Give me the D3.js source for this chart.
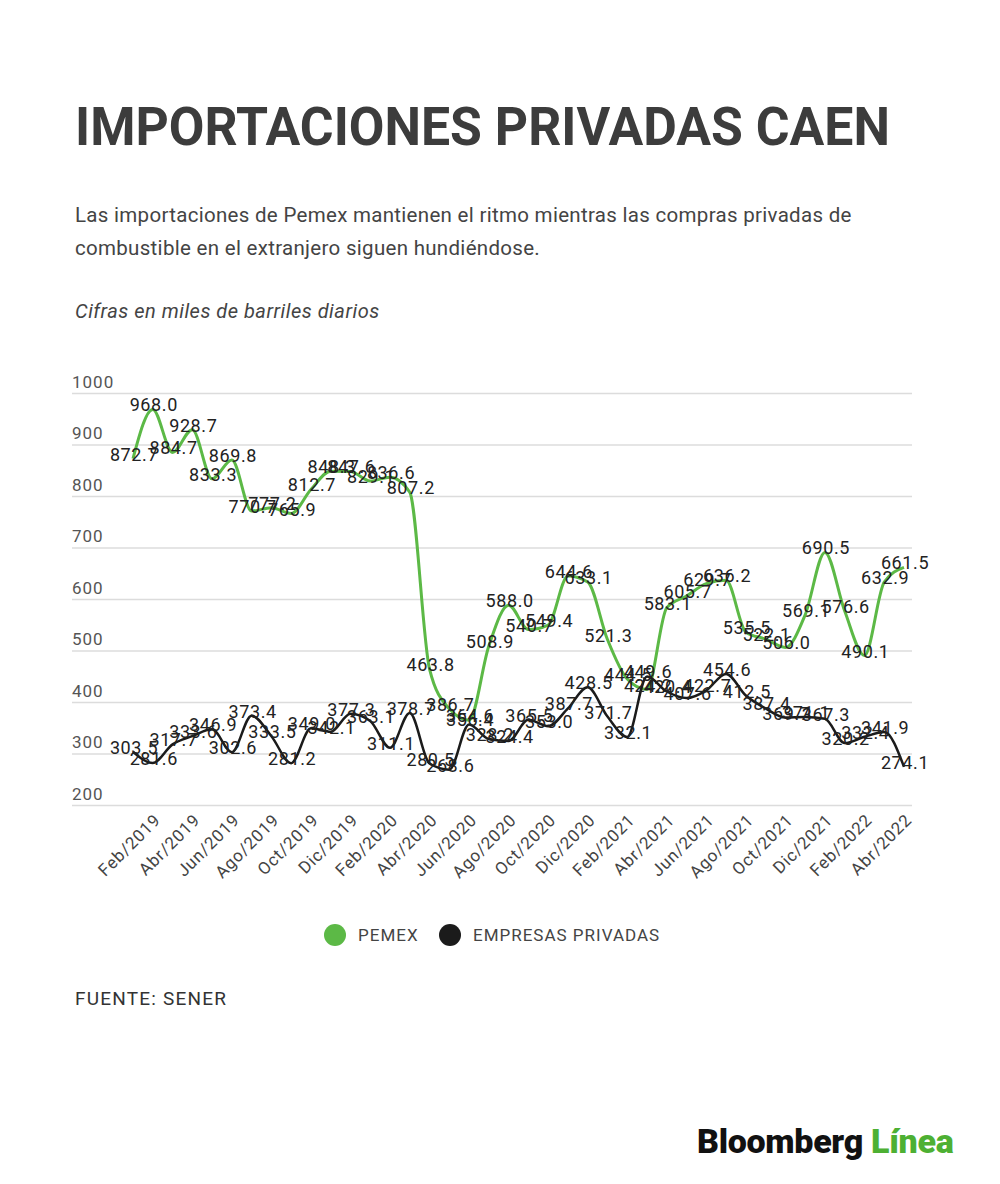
<!DOCTYPE html>
<html>
<head>
<meta charset="utf-8">
<script src="https://cdn.jsdelivr.net/npm/d3@7"></script>
<style>
  body { margin: 0; background: #fff; }
  svg text { font-family: Roboto, "Noto Sans", sans-serif; }
</style>
</head>
<body>
<div class="chart"></div>
<script>
// months Ene/2019 .. Abr/2022
const months = [
  "Ene/2019","Feb/2019","Mar/2019","Abr/2019","May/2019","Jun/2019","Jul/2019","Ago/2019","Sep/2019","Oct/2019","Nov/2019","Dic/2019",
  "Ene/2020","Feb/2020","Mar/2020","Abr/2020","May/2020","Jun/2020","Jul/2020","Ago/2020","Sep/2020","Oct/2020","Nov/2020","Dic/2020",
  "Ene/2021","Feb/2021","Mar/2021","Abr/2021","May/2021","Jun/2021","Jul/2021","Ago/2021","Sep/2021","Oct/2021","Nov/2021","Dic/2021",
  "Ene/2022","Feb/2022","Mar/2022","Abr/2022"
];
const pemex = [
  872.7, 968.0, 884.7, 928.7, 833.3, 869.8, 770.7, 777.2, 765.9, 812.7, 848.3, 847.6,
  829.1, 836.6, 807.2, 463.8, 386.7, 364.6, 508.9, 588.0, 540.7, 549.4, 644.6, 633.1,
  521.3, 444.5, 424.2, 583.1, 605.7, 629.7, 636.2, 535.5, 522.1, 506.0, 569.1, 690.5,
  576.6, 490.1, 632.9, 661.5
];
const privadas = [
  303.5, 281.6, 317.7, 333.6, 346.9, 302.6, 373.4, 333.5, 281.2, 349.0, 342.1, 377.3,
  363.1, 311.1, 378.7, 280.5, 268.6, 356.4, 328.2, 324.4, 365.5, 353.0, 387.7, 428.5,
  371.7, 332.1, 449.6, 420.4, 407.6, 422.7, 454.6, 412.5, 387.4, 369.7, 371.1, 367.3,
  320.2, 332.4, 341.9, 274.1
];
const yTicks = [200, 300, 400, 500, 600, 700, 800, 900, 1000];
const tickMonths = months.filter((d, i) => i % 2 === 1);

const width = 1000;
const height = 1184;
const green = "#5cb946";
const black = "#1b1b1b";

const svg = d3.select(".chart")
  .append("svg")
  .attr("width", width)
  .attr("height", height);

svg.append("rect").attr("width", width).attr("height", height).attr("fill", "#fff");

// header
svg.append("text")
  .attr("x", 75).attr("y", 145)
  .attr("font-size", 54).attr("font-weight", 700)
  .attr("fill", "#3c3c3c")
  .attr("textLength", 815).attr("lengthAdjust", "spacingAndGlyphs")
  .text("IMPORTACIONES PRIVADAS CAEN");

svg.selectAll("text.sub")
  .data(["Las importaciones de Pemex mantienen el ritmo mientras las compras privadas de",
         "combustible en el extranjero siguen hundiéndose."])
  .enter()
  .append("text")
  .attr("class", "sub")
  .attr("x", 75)
  .attr("y", (d, i) => 222 + i * 33)
  .attr("font-size", 20.5)
  .attr("letter-spacing", 0.3)
  .attr("fill", "#444")
  .text(d => d);

svg.append("text")
  .attr("x", 75).attr("y", 318)
  .attr("font-size", 20).attr("font-style", "italic")
  .attr("letter-spacing", 0.5)
  .attr("fill", "#444")
  .text("Cifras en miles de barriles diarios");

// scales
const x = d3.scalePoint().domain(months).range([133, 904]);
const y = d3.scaleLinear().domain([200, 1000]).range([805, 393]);

// y grid + labels
const yAxis = svg.append("g")
  .attr("transform", "translate(912,0)")
  .call(d3.axisLeft(y).tickValues(yTicks).tickSize(840).tickFormat(d3.format("d")));
yAxis.select(".domain").remove();
yAxis.selectAll(".tick line").attr("stroke", "#dcdcdc").attr("stroke-width", 1.5);
yAxis.selectAll(".tick text")
  .attr("x", -840).attr("dy", -6)
  .attr("text-anchor", "start")
  .attr("font-size", 17).attr("letter-spacing", 1)
  .attr("fill", "#555");

// x labels
const xAxis = svg.append("g")
  .attr("transform", "translate(0,805)")
  .call(d3.axisBottom(x).tickValues(tickMonths).tickSize(0));
xAxis.select(".domain").remove();
xAxis.selectAll(".tick text")
  .attr("transform", "translate(4,12) rotate(-45)")
  .attr("text-anchor", "end")
  .attr("dy", "0.35em")
  .attr("y", 0)
  .attr("font-size", 17).attr("letter-spacing", 0.8)
  .attr("fill", "#444");

// lines
const series = [
  { name: "PEMEX", values: pemex, color: green, w: 3 },
  { name: "EMPRESAS PRIVADAS", values: privadas, color: black, w: 2.5 }
];

const line = d3.line()
  .x((d, i) => x(months[i]))
  .y(d => y(d))
  .curve(d3.curveMonotoneX);

svg.selectAll("path.series")
  .data(series)
  .enter()
  .append("path")
  .attr("class", "series")
  .attr("d", d => line(d.values))
  .attr("fill", "none")
  .attr("stroke", d => d.color)
  .attr("stroke-width", d => d.w);

// value labels
series.forEach(s => {
  svg.append("g").selectAll("text")
    .data(s.values)
    .enter()
    .append("text")
    .attr("x", (d, i) => x(months[i]) + 1)
    .attr("y", d => y(d) + 2)
    .attr("text-anchor", "middle")
    .attr("font-size", 18).attr("letter-spacing", 0.6)
    .attr("fill", "#222")
    .text(d => d.toFixed(1));
});

// legend
const legend = svg.append("g").attr("transform", "translate(335,935)");
const legX = [0, 115];
legend.selectAll("circle")
  .data(series)
  .enter()
  .append("circle")
  .attr("cx", (d, i) => legX[i])
  .attr("cy", 0)
  .attr("r", 11)
  .attr("fill", d => d.color);
legend.selectAll("text")
  .data(series)
  .enter()
  .append("text")
  .attr("x", (d, i) => legX[i] + 23)
  .attr("y", 6)
  .attr("font-size", 17).attr("letter-spacing", 1)
  .attr("fill", "#444")
  .text(d => d.name);

// source
svg.append("text")
  .attr("x", 75).attr("y", 1005)
  .attr("font-size", 19).attr("letter-spacing", 1.2)
  .attr("fill", "#333")
  .text("FUENTE: SENER");

// logo
const logo = svg.append("text")
  .attr("x", 697).attr("y", 1153)
  .attr("font-size", 34).attr("font-weight", 900)
  .attr("letter-spacing", -0.3);
logo.append("tspan").attr("fill", "#111").text("Bloomberg ");
logo.append("tspan").attr("fill", "#4db033").text("Línea");
</script>
</body>
</html>
